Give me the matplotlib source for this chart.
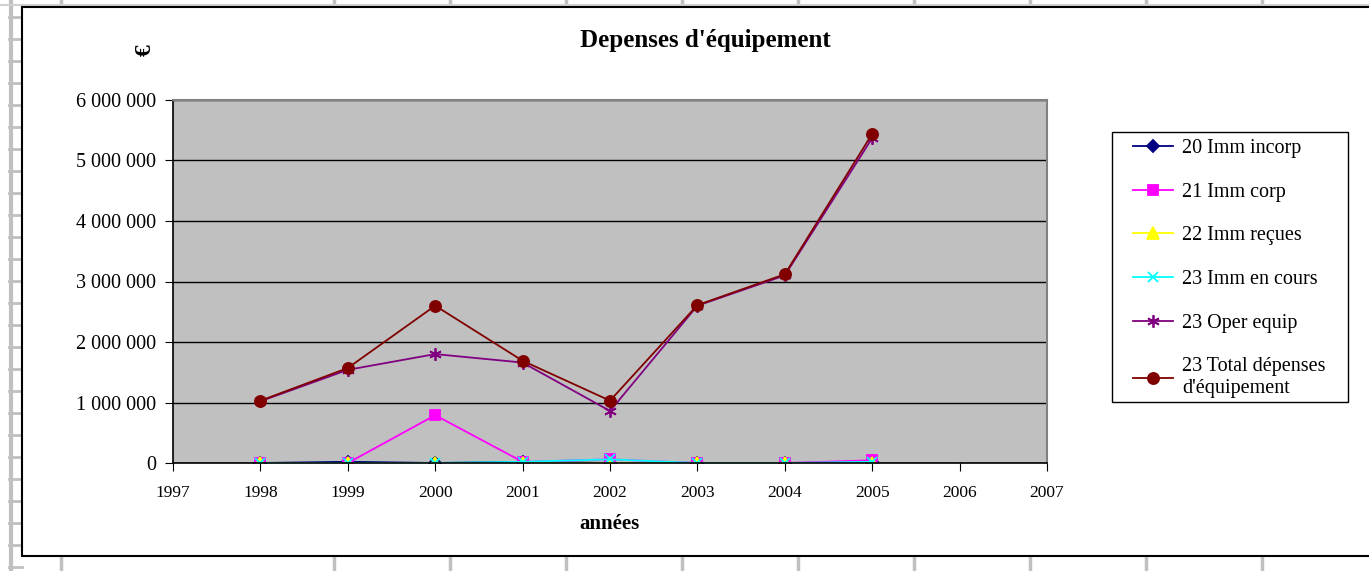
from matplotlib import pyplot as plt
from matplotlib.lines import Line2D
from matplotlib.patches import Rectangle
from matplotlib.ticker import FuncFormatter

plt.rcParams['font.family'] = ['Liberation Serif', 'DejaVu Serif']

# Dépenses d'équipement par compte (en euros)
annees = [1998, 1999, 2000, 2001, 2002, 2003, 2004, 2005]
imm_incorp = [0, 20000, 0, 20000, 0, 0, 0, 10000]
imm_corp = [0, 0, 790000, 20000, 60000, 0, 0, 45000]
imm_recues = [0, 0, 0, 0, 0, 0, 0, 0]
imm_en_cours = [0, 0, 0, 20000, 60000, 0, 0, 20000]
oper_equip = [1020000, 1540000, 1800000, 1660000, 860000, 2600000, 3100000, 5370000]
total_depenses = [1030000, 1570000, 2600000, 1690000, 1030000, 2610000, 3120000, 5440000]

series = [
    ('20 Imm incorp', imm_incorp, '#000080', 'D', 6),
    ('21 Imm corp', imm_corp, '#FF00FF', 's', 7),
    ('22 Imm reçues', imm_recues, '#FFFF00', '^', 8),
    ('23 Imm en cours', imm_en_cours, '#00FFFF', 'x', 7),
    ('23 Oper equip', oper_equip, '#800080', (6, 2, 0), 9),
    ("23 Total dépenses\nd'équipement", total_depenses, '#800000', 'o', 8),
]

W, H = 1369, 571
fig = plt.figure(figsize=(W / 100, H / 100), dpi=100)

# fond tableur : colonnes et lignes grises
for x in [11, 61, 334, 450, 566, 682, 798, 914, 1030, 1146, 1262]:
    fig.add_artist(Line2D([x / W, x / W], [0, 1], color='#C0C0C0', lw=3 if x == 11 else 2.5, zorder=-3))
for y in range(17, 571, 22):
    fig.add_artist(Line2D([9 / W, 22 / W], [1 - y / H, 1 - y / H], color='#C0C0C0', lw=2, zorder=-3))
fig.add_artist(Line2D([0, 1], [1 - 5 / H, 1 - 5 / H], color='#D0D0D0', lw=1.5, zorder=-3))

# cadre du graphique
fig.add_artist(Rectangle((22 / W, 1 - 556 / H), 1.0, (556 - 7) / H, facecolor='white',
                         edgecolor='black', lw=1.5, zorder=-1))

ax = fig.add_axes([173 / W, 1 - 463 / H, (1047 - 173) / W, (463 - 100) / H])
ax.set_facecolor('#C0C0C0')

for label, vals, color, marker, ms in series:
    ax.plot(annees, vals, color=color, marker=marker, markersize=ms, lw=1.3,
            markeredgecolor=color, markeredgewidth=1.3, label=label)

ax.set_xlim(1997, 2007)
ax.set_ylim(0, 6000000)
ax.set_xticks(range(1997, 2008))
ax.set_yticks(range(0, 6000001, 1000000))
ax.yaxis.set_major_formatter(FuncFormatter(lambda v, p: '{:,.0f}'.format(v).replace(',', ' ')))
ax.grid(axis='y', color='black', lw=1)
ax.set_axisbelow(True)
ax.tick_params(axis='y', labelsize=14.5, length=6, direction='out', color='black', pad=6)
ax.tick_params(axis='x', labelsize=12.5, length=6, direction='out', color='black', pad=10)
for s in ['top', 'right']:
    ax.spines[s].set_color('#808080')
    ax.spines[s].set_linewidth(1.5)
for s in ['left', 'bottom']:
    ax.spines[s].set_color('black')
    ax.spines[s].set_linewidth(1.2)

fig.text(705 / W, 1 - 40 / H, "Depenses d'équipement", ha='center', va='center',
         fontsize=18, fontweight='bold')
fig.text(145 / W, 1 - 50 / H, '€', ha='center', va='center', rotation=90,
         fontsize=17, fontweight='bold')
fig.text(610 / W, 1 - 524 / H, 'années', ha='center', va='center',
         fontsize=15, fontweight='bold')

# légende : cadre dessiné à part, sous les axes
fig.add_artist(Rectangle((1112 / W, 1 - 402 / H), (1348 - 1112) / W, (402 - 132) / H,
                         facecolor='white', edgecolor='black', lw=1, zorder=-0.5))
leg = ax.legend(loc='upper left', bbox_to_anchor=(1133 / W, 1 - 139 / H),
                bbox_transform=fig.transFigure, fontsize=14.5, frameon=False,
                handlelength=2.0, handletextpad=0.45, labelspacing=1.22,
                borderpad=0, borderaxespad=0)

fig.savefig('out.png', dpi=100)
